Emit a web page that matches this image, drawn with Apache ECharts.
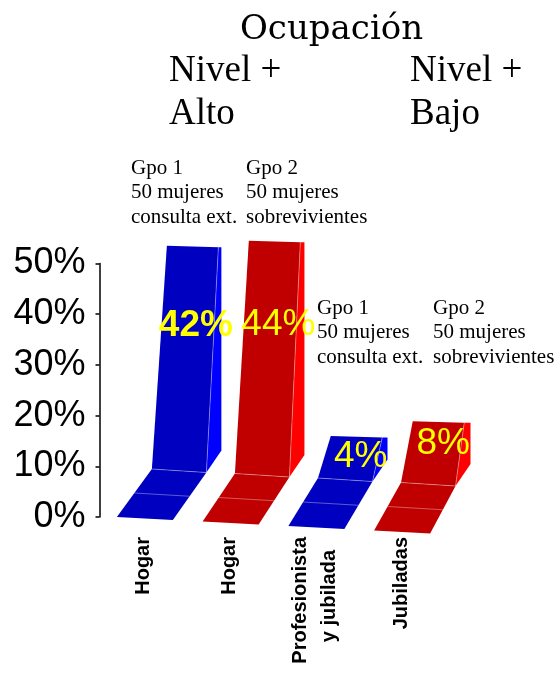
<!DOCTYPE html>
<html><head><meta charset="utf-8">
<script src="https://cdn.jsdelivr.net/npm/echarts@6/dist/echarts.min.js"></script>
<style>html,body{margin:0;padding:0;background:#fff}#c{width:555px;height:684px}</style>
</head><body><div id="c"></div>
<script>
// ---- data ----
const categories = ['Hogar', 'Hogar', 'Profesionista\ny jubilada', 'Jubiladas'];
const values = [42, 44, 4, 8];
const valueLabels = ['42%', '44%', '4%', '8%'];
const yMin = 0, yMax = 50, yStep = 10;
const groupNotes = [
  'Gpo 1\n50 mujeres\nconsulta ext.',
  'Gpo 2\n50 mujeres\nsobrevivientes',
  'Gpo 1\n50 mujeres\nconsulta ext.',
  'Gpo 2\n50 mujeres\nsobrevivientes'
];
const mainTitle = 'Ocupación';
const levelTitles = ['Nivel +\nAlto', 'Nivel +\nBajo'];

// ---- styles ----
const frontColors = ['#0000C0', '#C00000', '#0000C0', '#C00000'];
const sideColors = ['#0000FF', '#FF0000', '#0000FF', '#FF0000'];
const labelWeights = ['bold', 'normal', 'normal', 'normal'];
const notePos = [[131, 156], [246, 156], [317, 296], [433, 296]];
const levelPos = [[169, 50], [410, 50]];

function renderItem(params, api) {
  const i = api.value(0);
  const v = api.value(1);
  const p0 = api.coord([i, 0]);
  const hPx = api.size([0, v])[1];
  const H = 23 + 0.94 * hPx;
  const BL = [p0[0] - 27, p0[1] + 4.5 * i];
  const BR = [BL[0] + 56, BL[1] + 3];
  const FL = [BL[0] + 35 - 2.7 * i, BL[1] - 48];
  const FR = [FL[0] + 54.5, FL[1] + 3.5];
  const TL = [FL[0] + 15 - 1.1 * i, FL[1] - H];
  const TR = [TL[0] + 51.5, TL[1] + 1.5];
  const SB = [FR[0] + 15, FR[1] - 22];
  const M1 = [(BL[0] + FL[0]) / 2, (BL[1] + FL[1]) / 2];
  const M2 = [(BR[0] + FR[0]) / 2, (BR[1] + FR[1]) / 2];
  const lc = 'rgba(255,255,255,0.35)';
  return {
    type: 'group',
    children: [
      { type: 'polygon', shape: { points: [BL, BR, FR, FL] }, style: { fill: frontColors[i] } },
      { type: 'polygon', shape: { points: [TR, [SB[0], TR[1]], SB, FR] }, style: { fill: sideColors[i] } },
      { type: 'polygon', shape: { points: [FL, FR, TR, TL] }, style: { fill: frontColors[i] } },
      { type: 'line', shape: { x1: M1[0], y1: M1[1], x2: M2[0], y2: M2[1] }, style: { stroke: lc, lineWidth: 1 } },
      { type: 'line', shape: { x1: FL[0], y1: FL[1], x2: FR[0], y2: FR[1] }, style: { stroke: lc, lineWidth: 1 } },
      { type: 'line', shape: { x1: FR[0], y1: FR[1], x2: TR[0], y2: TR[1] }, style: { stroke: lc, lineWidth: 1 } },
      {
        type: 'text', z2: 100,
        style: {
          text: valueLabels[i], x: p0[0] + 52 - 3.3 * i, y: FL[1] - 0.64 * H + (i === 2 ? 6 : 0),
          fill: '#FFFF00', fontSize: 37, fontWeight: labelWeights[i],
          fontFamily: 'Liberation Sans', align: 'center', verticalAlign: 'middle'
        }
      }
    ]
  };
}

const chart = echarts.init(document.getElementById('c'), null, { renderer: 'canvas' });
const graphics = [
  { type: 'text', left: 240, top: 13, style: { text: mainTitle, fontSize: 34, fontFamily: 'DejaVu Serif', fill: '#000' } }
];
levelTitles.forEach((t, k) => graphics.push({
  type: 'text', x: levelPos[k][0], y: levelPos[k][1],
  style: { text: t, fontSize: 37, lineHeight: 43, fontFamily: 'Liberation Serif', fill: '#000', verticalAlign: 'top' }
}));
groupNotes.forEach((t, k) => graphics.push({
  type: 'text', x: notePos[k][0], y: notePos[k][1],
  style: { text: t, fontSize: 21, lineHeight: 24.5, fontFamily: 'Liberation Serif', fill: '#000', verticalAlign: 'top' }
}));

chart.setOption({
  animation: false,
  backgroundColor: '#fff',
  grid: { left: 101, top: 263.5, width: 343, height: 253.5 },
  xAxis: {
    type: 'category', data: categories, boundaryGap: true,
    axisLine: { show: false }, axisTick: { show: false }, splitLine: { show: false },
    axisLabel: {
      rotate: 90, interval: 0, margin: 20, color: '#000',
      fontSize: 20, fontWeight: 'bold', fontFamily: 'Liberation Sans', lineHeight: 29,
      formatter: (val) => val.split('\n').map((s, k) => k ? '{b|' + s + '}' : s).join('\n'),
      rich: { b: { padding: [0, 13, 0, 0], fontSize: 20, fontWeight: 'bold', fontFamily: 'Liberation Sans', lineHeight: 29, color: '#000' } }
    }
  },
  yAxis: {
    type: 'value', min: yMin, max: yMax, interval: yStep, offset: 1.5,
    axisLine: { show: true, lineStyle: { color: '#000', width: 1.5 } },
    axisTick: { show: true, length: 4, lineStyle: { color: '#000', width: 1.5 } },
    splitLine: { show: false },
    axisLabel: { formatter: '{value}%', fontSize: 36, color: '#000', fontFamily: 'Liberation Sans', margin: 14 }
  },
  graphic: graphics,
  series: [{
    type: 'custom',
    renderItem: renderItem,
    encode: { x: 0, y: 1 },
    data: values.map((v, i) => [i, v])
  }]
});
</script></body></html>
